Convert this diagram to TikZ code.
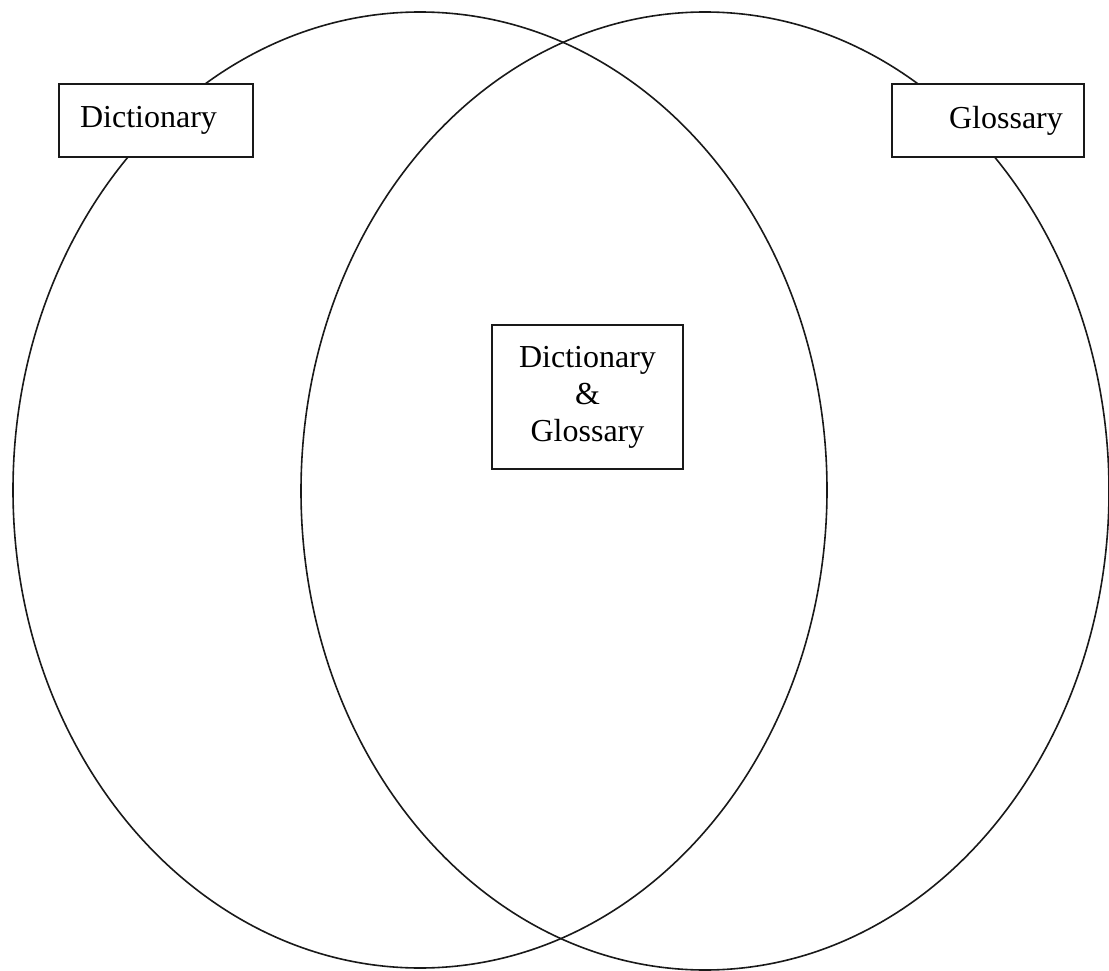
\documentclass[tikz,border=0pt]{standalone}
\usepackage{fontspec}
\setmainfont{Liberation Serif}
\begin{document}
\begin{tikzpicture}[x=1pt,y=-1pt,
  ring/.style={draw=black!90,line width=1.6pt},
  labelbox/.style={draw=black!90,line width=1.8pt,fill=white,inner sep=0pt,
    font=\fontsize{32}{37}\selectfont,align=center}]
\useasboundingbox (0,0) rectangle (1109,971);
% circles
\draw[ring] (420,490) ellipse [x radius=407,y radius=478];
\draw[ring] (705,491) ellipse [x radius=404,y radius=479];
% boxes
\node[labelbox,minimum width=194pt,minimum height=73pt] (dict) at (156,120.5)
  {\raisebox{3pt}{Dictionary}\hspace{15pt}};
\node[labelbox,minimum width=192pt,minimum height=73pt] (gloss) at (988,120.5)
  {\hspace{36pt}\raisebox{3pt}{Glossary}};
\node[labelbox,minimum width=191pt,minimum height=144pt] (both) at (587.5,397)
  {Dictionary\\\&\\Glossary};
\end{tikzpicture}
\end{document}
